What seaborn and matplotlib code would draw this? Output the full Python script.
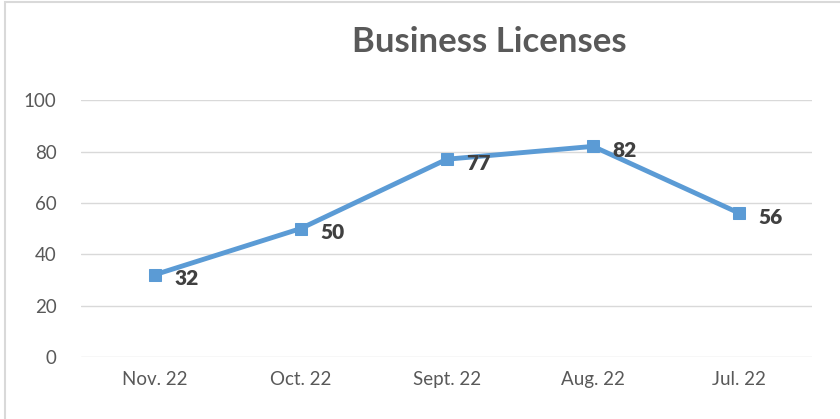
import matplotlib
matplotlib.use("Agg")
import matplotlib.pyplot as plt
import seaborn as sns
import pandas as pd
from matplotlib.patches import Rectangle

# Monthly business licenses (reference order, newest first)
months = ["Nov. 22", "Oct. 22", "Sept. 22", "Aug. 22", "Jul. 22"]
licenses = [32, 50, 77, 82, 56]
y_ticks = [0, 20, 40, 60, 80, 100]

df = pd.DataFrame({"month": months, "licenses": licenses})

sns.set_theme(style="white")
plt.rcParams["font.family"] = ["Lato", "DejaVu Sans"]

fig = plt.figure(figsize=(8.4, 4.19), dpi=100)
ax = fig.add_axes([0.097, 0.148, 0.870, 0.613])

line_color = "#5B9BD5"
sns.lineplot(
    data=df, x="month", y="licenses", ax=ax, sort=False,
    color=line_color, linewidth=3.5, marker="s", markersize=8,
    markeredgecolor=line_color, markerfacecolor=line_color,
)

# data labels to the right of each point
for i, v in enumerate(licenses):
    ax.annotate(
        str(v), (i, v), xytext=(14, -3), textcoords="offset points",
        ha="left", va="center", fontsize=15, fontweight="heavy", color="#404040",
    )

ax.set_ylim(0, 100)
ax.set_xlim(-0.5, len(months) - 0.5)
ax.set_yticks(y_ticks)
ax.yaxis.grid(True, color="#D9D9D9", linewidth=1)
ax.set_axisbelow(True)
for side in ["top", "right", "left", "bottom"]:
    ax.spines[side].set_visible(False)
ax.tick_params(axis="both", length=0, labelsize=13.5, labelcolor="#595959")
ax.tick_params(axis="y", pad=18)
ax.tick_params(axis="x", pad=10)
ax.set_xlabel("")
ax.set_ylabel("")

fig.text(0.583, 0.9, "Business Licenses", ha="center", va="center",
         fontsize=25, fontweight="bold", color="#595959")

# light chart-area border
fig.patches.append(Rectangle((0.006, -0.01), 1.0, 1.005, transform=fig.transFigure,
                             fill=False, edgecolor="#D9D9D9", linewidth=1.5))

fig.savefig("out.png", dpi=100)
